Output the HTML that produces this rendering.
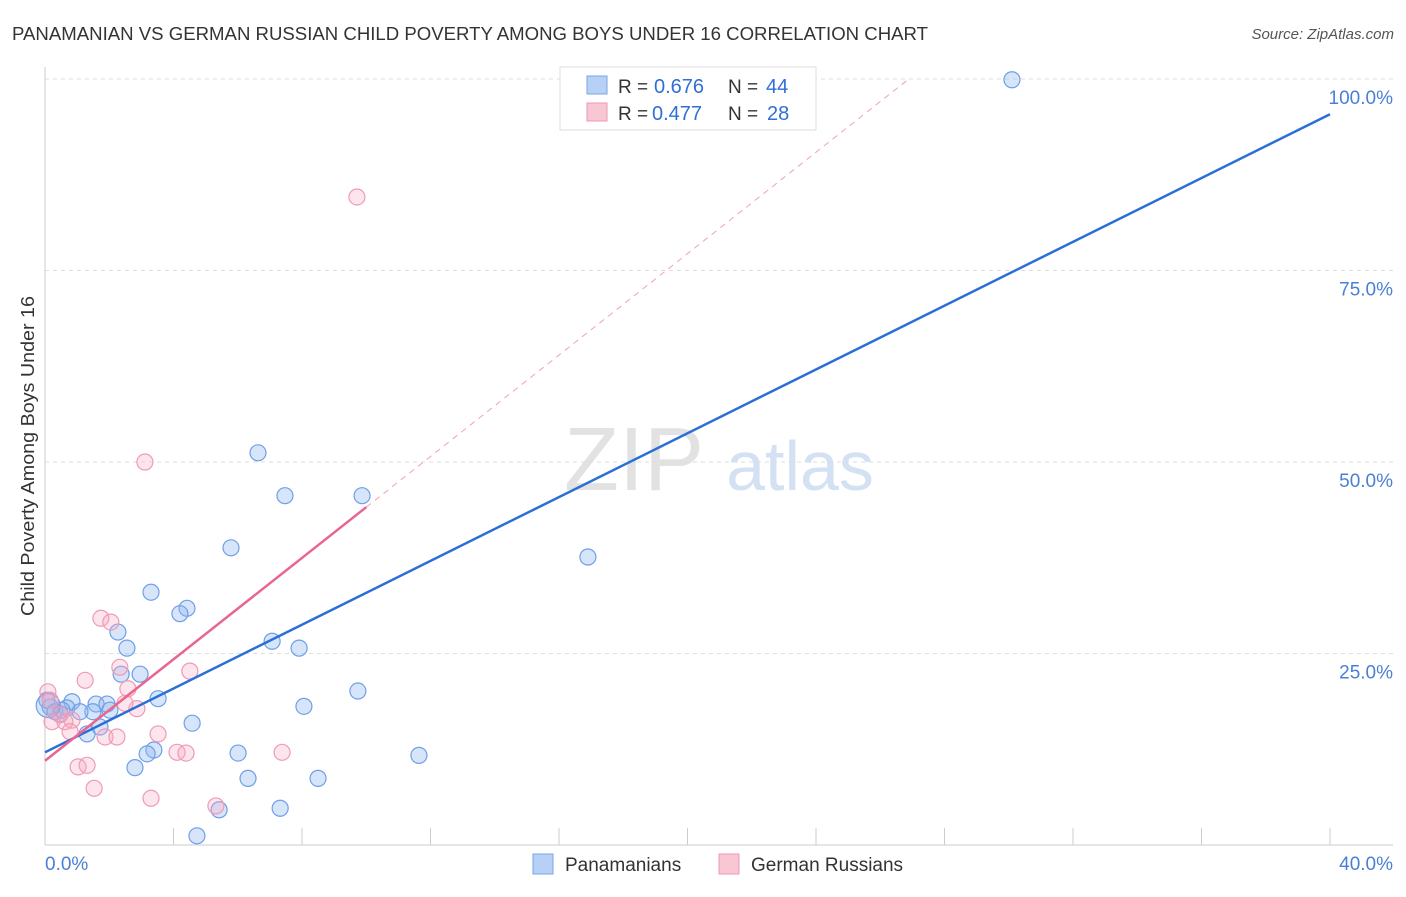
<!DOCTYPE html>
<html><head><meta charset="utf-8"><style>
body{margin:0;background:#fff;font-family:"Liberation Sans",sans-serif;}
svg text{font-family:"Liberation Sans",sans-serif;}
</style></head><body>
<svg id="chart" width="1406" height="892" xmlns="http://www.w3.org/2000/svg">
<text x="12" y="40" font-size="18" fill="#333" textLength="916" lengthAdjust="spacingAndGlyphs">PANAMANIAN VS GERMAN RUSSIAN CHILD POVERTY AMONG BOYS UNDER 16 CORRELATION CHART</text>
<text x="1394" y="39" font-size="15" fill="#555" font-style="italic" text-anchor="end">Source: ZipAtlas.com</text>
<text x="634" y="490" font-size="90" fill="#e2e2e2" font-family="Liberation Serif" text-anchor="middle">ZIP</text>
<text x="800" y="490" font-size="70" fill="#d3e1f3" text-anchor="middle">atlas</text>
<text transform="translate(34,456) rotate(-90)" font-size="18" fill="#333" text-anchor="middle" textLength="320" lengthAdjust="spacingAndGlyphs">Child Poverty Among Boys Under 16</text>
<g id="grid"></g><g id="pts"></g><g id="lines"></g>
<g>
<rect x="560" y="67" width="256" height="63" fill="#fff" stroke="#ddd"/>
<rect x="587" y="76" width="20" height="18" fill="#b7d0f5" stroke="#7aa6e6"/>
<rect x="587" y="103" width="20" height="18" fill="#f9c6d4" stroke="#ee9ab2"/>
<text x="618" y="93" font-size="19" fill="#333">R = <tspan x="654" fill="#2f6fd6" font-size="20">0.676</tspan><tspan x="728">N = </tspan><tspan x="766" fill="#2f6fd6" font-size="20">44</tspan></text>
<text x="618" y="120" font-size="19" fill="#333">R = <tspan x="652" fill="#2f6fd6" font-size="20">0.477</tspan><tspan x="728">N = </tspan><tspan x="767" fill="#2f6fd6" font-size="20">28</tspan></text>
</g>
<g>
<rect x="533" y="854" width="20" height="20" fill="#b7d0f5" stroke="#7aa6e6"/>
<text x="565" y="871" font-size="19" fill="#333">Panamanians</text>
<rect x="719" y="854" width="20" height="20" fill="#f9c6d4" stroke="#ee9ab2"/>
<text x="751" y="871" font-size="19" fill="#333">German Russians</text>
</g>
<text x="45" y="870" font-size="19" fill="#4a7fd6">0.0%</text>
<text x="1393" y="870" font-size="19" fill="#4a7fd6" text-anchor="end">40.0%</text>
</svg>
<script>
const yTicks=[25,50,75,100];
const blueX=[30.1,6.63,7.47,9.87,5.79,16.9,3.30,4.42,4.20,2.27,2.55,7.07,7.91,2.96,2.37,9.74,3.52,8.06,0.06,0.16,0.31,0.84,0.68,1.59,1.93,2.02,1.49,0.47,1.31,1.71,4.58,3.39,3.18,6.01,11.64,2.80,6.32,8.50,5.42,7.32,4.73,0.53,1.09,0.1];
const blueY=[99.9,51.2,45.6,45.6,38.8,37.6,33.0,30.9,30.2,27.8,25.7,26.6,25.7,22.3,22.3,20.1,19.1,18.1,18.9,18.0,17.4,18.7,17.9,18.4,18.4,17.6,17.4,17.1,14.5,15.4,15.9,12.4,11.9,12.0,11.7,10.1,8.7,8.7,4.6,4.8,1.2,17.6,17.4,18.2];
const pinkX=[9.71,3.11,1.74,2.05,2.33,4.51,1.25,2.58,0.09,2.86,2.49,0.16,0.47,0.84,0.22,0.62,0.78,1.87,2.24,3.52,4.11,4.39,7.38,1.03,1.31,1.53,3.30,5.32];
const pinkY=[84.6,50.0,29.6,29.1,23.2,22.7,21.5,20.4,20.0,17.8,18.5,18.9,17.0,16.3,16.1,16.1,14.8,14.1,14.1,14.5,12.1,12.0,12.1,10.2,10.4,7.4,6.1,5.1];
const blueFit=[12.1,95.4];
const pinkFit=[11.0,3.31];
const sx=v=>45+v*32.125, sy=v=>845-v*7.66;
const NS="http://www.w3.org/2000/svg";
function mk(p,t,a){const e=document.createElementNS(NS,t);for(const k in a)e.setAttribute(k,a[k]);p.appendChild(e);return e;}
const grid=document.getElementById('grid');
let ax=mk(grid,'line',{x1:45,y1:67,x2:45,y2:845,stroke:'#ccc'});


let bx=mk(grid,'line',{x1:45,y1:845,x2:1393,y2:845,stroke:'#ccc'});


for(let i=0;i<=10;i++){const t=mk(grid,'line',{x1:sx(i*4),y1:828,x2:sx(i*4),y2:845,stroke:'#ccc'});

}
yTicks.forEach(v=>{const g=mk(grid,'line',{x1:45,y1:sy(v),x2:1393,y2:sy(v),stroke:'#ddd','stroke-dasharray':'4,4'});


const t=mk(grid,'text',{x:1393,y:sy(v)+25,'font-size':19,fill:'#4a7fd6','text-anchor':'end'});t.textContent=v.toFixed(1)+'%';

});
const pts=document.getElementById('pts');
blueX.forEach((x,i)=>{const c=mk(pts,'circle',{cx:sx(x),cy:sy(blueY[i]),r:i==43?12:8,fill:'rgba(140,180,240,0.35)',stroke:'#6f9fe6','stroke-width':1.2});

});
pinkX.forEach((x,i)=>{const c=mk(pts,'circle',{cx:sx(x),cy:sy(pinkY[i]),r:8,fill:'rgba(248,170,195,0.3)',stroke:'#f09ab5','stroke-width':1.2});

});
const L=document.getElementById('lines');
let b=mk(L,'line',{x1:sx(0),y1:sy(blueFit[0]),x2:sx(40),y2:sy(blueFit[1]),stroke:'#2a6fd6','stroke-width':2.5});


const xe=(100-pinkFit[0])/pinkFit[1];
let pd=mk(L,'line',{x1:sx(10),y1:sy(pinkFit[0]+pinkFit[1]*10),x2:sx(xe),y2:sy(100),stroke:'#f0a0b8','stroke-width':1,'stroke-dasharray':'6,5'});


let p=mk(L,'line',{x1:sx(0),y1:sy(pinkFit[0]),x2:sx(10),y2:sy(pinkFit[0]+pinkFit[1]*10),stroke:'#e8668f','stroke-width':2.5});


</script>
</body></html>
